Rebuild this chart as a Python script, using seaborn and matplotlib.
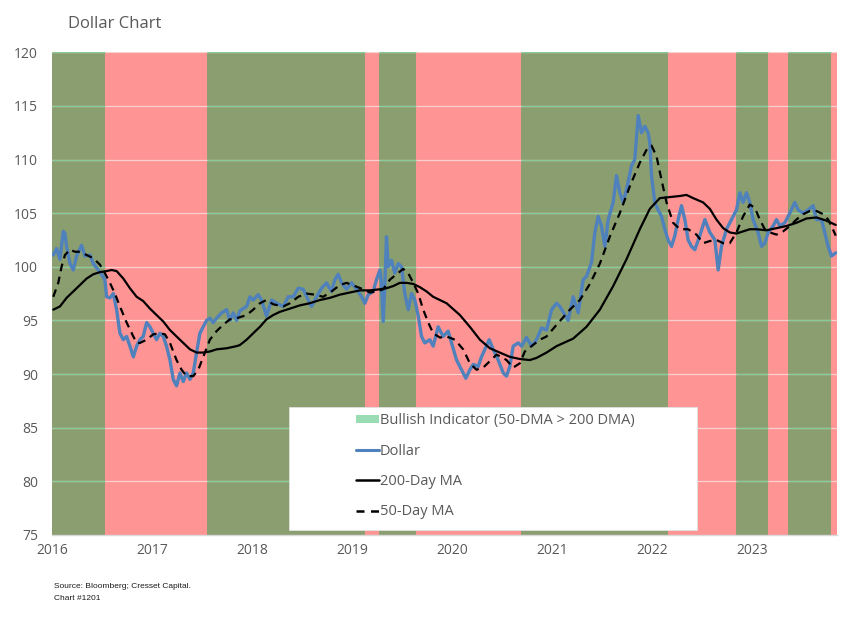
import numpy as np
import pandas as pd
import matplotlib
matplotlib.use("Agg")
import matplotlib.pyplot as plt
from matplotlib.lines import Line2D
from matplotlib.patches import Patch, Rectangle
import seaborn as sns

# ---------------- data (decimal years, index values) ----------------
dollar_t = [2016.013, 2016.046, 2016.080, 2016.113, 2016.130, 2016.146, 2016.180, 2016.213, 2016.246, 2016.296,
            2016.330, 2016.380, 2016.413, 2016.463, 2016.496, 2016.529, 2016.546, 2016.579, 2016.613, 2016.646,
            2016.679, 2016.713, 2016.746, 2016.779, 2016.813, 2016.846, 2016.879, 2016.912, 2016.946, 2016.979,
            2017.012, 2017.045, 2017.079, 2017.112, 2017.145, 2017.179, 2017.212, 2017.245, 2017.279, 2017.312,
            2017.345, 2017.379, 2017.412, 2017.445, 2017.478, 2017.512, 2017.545, 2017.578, 2017.612, 2017.645,
            2017.695, 2017.745, 2017.778, 2017.811, 2017.845, 2017.878, 2017.945, 2017.978, 2018.011, 2018.061,
            2018.094, 2018.144, 2018.194, 2018.244, 2018.311, 2018.361, 2018.411, 2018.461, 2018.511, 2018.561,
            2018.594, 2018.644, 2018.694, 2018.744, 2018.794, 2018.827, 2018.860, 2018.894, 2018.944, 2018.994,
            2019.044, 2019.094, 2019.127, 2019.160, 2019.210, 2019.243, 2019.277, 2019.293, 2019.310, 2019.327,
            2019.343, 2019.360, 2019.393, 2019.426, 2019.460, 2019.493, 2019.526, 2019.560, 2019.593, 2019.626,
            2019.660, 2019.693, 2019.726, 2019.776, 2019.809, 2019.859, 2019.909, 2019.959, 2019.993, 2020.043,
            2020.092, 2020.136, 2020.176, 2020.209, 2020.259, 2020.292, 2020.326, 2020.369, 2020.409, 2020.459,
            2020.509, 2020.542, 2020.575, 2020.609, 2020.659, 2020.692, 2020.742, 2020.792, 2020.842, 2020.892,
            2020.942, 2020.992, 2021.042, 2021.075, 2021.158, 2021.208, 2021.258, 2021.308, 2021.341, 2021.391,
            2021.425, 2021.458, 2021.491, 2021.525, 2021.558, 2021.608, 2021.641, 2021.674, 2021.708, 2021.741,
            2021.791, 2021.824, 2021.858, 2021.891, 2021.924, 2021.957, 2021.974, 2021.991, 2022.024, 2022.057,
            2022.091, 2022.124, 2022.157, 2022.191, 2022.224, 2022.257, 2022.291, 2022.324, 2022.357, 2022.390,
            2022.424, 2022.474, 2022.524, 2022.574, 2022.624, 2022.657, 2022.690, 2022.740, 2022.790, 2022.840,
            2022.873, 2022.906, 2022.940, 2022.973, 2023.006, 2023.056, 2023.090, 2023.123, 2023.156, 2023.206,
            2023.240, 2023.273, 2023.323, 2023.373, 2023.423, 2023.456, 2023.506, 2023.556, 2023.606, 2023.639,
            2023.689, 2023.722, 2023.756, 2023.789, 2023.832]
dollar_v = [101.1, 101.7, 100.7, 103.3, 103.1, 101.9, 100.3, 99.7, 101.0, 102.0,
            101.0, 101.1, 100.3, 99.7, 99.3, 98.8, 97.2, 97.1, 97.5, 96.0,
            93.8, 93.2, 93.5, 92.6, 91.6, 92.6, 93.2, 93.5, 94.8, 94.4,
            93.8, 93.2, 93.8, 93.5, 92.6, 91.3, 89.5, 88.9, 90.1, 89.3,
            90.1, 89.5, 90.1, 92.0, 93.8, 94.4, 95.0, 95.2, 94.8, 95.2,
            95.7, 96.0, 95.0, 95.7, 95.0, 95.9, 96.3, 97.2, 96.9, 97.4,
            96.9, 95.4, 96.9, 96.6, 96.3, 97.2, 97.2, 98.0, 97.9, 96.9,
            96.3, 97.2, 98.0, 98.5, 97.7, 98.8, 99.3, 98.5, 97.9, 98.5,
            97.9, 97.2, 96.6, 97.4, 97.7, 98.8, 99.7, 98.5, 94.9, 98.5,
            102.8, 100.0, 100.6, 99.4, 100.3, 100.0, 97.5, 96.0, 97.5, 96.9,
            95.4, 93.5, 92.9, 93.2, 92.6, 94.4, 93.5, 94.0, 92.9, 91.3,
            90.4, 89.6, 90.4, 90.9, 90.7, 91.6, 92.3, 93.2, 92.3, 91.3,
            90.1, 89.8, 90.7, 92.6, 92.9, 92.6, 93.4, 92.6, 93.2, 94.3,
            94.1, 96.0, 96.6, 96.3, 95.0, 97.2, 95.7, 98.8, 99.1, 100.4,
            103.2, 104.7, 103.8, 101.9, 104.4, 106.0, 108.5, 106.9, 106.0, 107.2,
            109.4, 110.0, 114.1, 112.5, 113.1, 112.5, 111.6, 108.5, 106.0, 105.3,
            104.7, 103.5, 102.5, 101.9, 102.9, 104.4, 105.7, 104.4, 102.5, 101.9,
            101.6, 102.9, 104.4, 103.2, 102.5, 99.7, 101.9, 103.5, 104.4, 105.3,
            106.9, 106.0, 106.9, 106.0, 104.4, 103.2, 101.9, 102.2, 103.2, 103.8,
            104.4, 103.8, 104.1, 105.0, 106.0, 105.3, 105.0, 105.3, 105.7, 104.4,
            104.4, 103.2, 101.9, 101.0, 101.3]

ma200_t = [2016.013, 2016.080, 2016.146, 2016.213, 2016.280, 2016.346, 2016.413, 2016.479, 2016.546, 2016.596,
           2016.646, 2016.713, 2016.779, 2016.846, 2016.912, 2016.979, 2017.045, 2017.112, 2017.179, 2017.245,
           2017.312, 2017.379, 2017.445, 2017.512, 2017.578, 2017.645, 2017.745, 2017.845, 2017.878, 2017.945,
           2018.011, 2018.078, 2018.144, 2018.211, 2018.278, 2018.378, 2018.477, 2018.577, 2018.677, 2018.777,
           2018.877, 2018.977, 2019.077, 2019.177, 2019.277, 2019.343, 2019.410, 2019.476, 2019.543, 2019.610,
           2019.676, 2019.743, 2019.809, 2019.876, 2019.943, 2020.076, 2020.176, 2020.276, 2020.376, 2020.475,
           2020.575, 2020.675, 2020.775, 2020.842, 2020.942, 2021.042, 2021.208, 2021.341, 2021.475, 2021.608,
           2021.741, 2021.874, 2021.974, 2022.074, 2022.174, 2022.274, 2022.340, 2022.407, 2022.507, 2022.574,
           2022.640, 2022.707, 2022.773, 2022.840, 2022.906, 2022.973, 2023.040, 2023.140, 2023.240, 2023.339,
           2023.439, 2023.539, 2023.639, 2023.739, 2023.832]
ma200_v = [96.0, 96.3, 97.1, 97.7, 98.3, 98.9, 99.3, 99.5, 99.6, 99.7,
           99.6, 98.9, 98.0, 97.2, 96.8, 96.1, 95.5, 94.9, 94.1, 93.5,
           92.9, 92.3, 92.0, 92.0, 92.1, 92.3, 92.4, 92.6, 92.7, 93.2,
           93.8, 94.4, 95.1, 95.5, 95.8, 96.1, 96.4, 96.6, 96.9, 97.1,
           97.4, 97.6, 97.8, 97.8, 97.9, 98.0, 98.2, 98.5, 98.5, 98.4,
           98.1, 97.7, 97.2, 96.9, 96.6, 95.5, 94.4, 93.2, 92.4, 92.0,
           91.6, 91.4, 91.3, 91.5, 92.0, 92.6, 93.3, 94.4, 96.0, 98.2,
           100.7, 103.5, 105.4, 106.4, 106.5, 106.6, 106.7, 106.4, 106.0, 105.4,
           104.4, 103.6, 103.2, 103.1, 103.3, 103.5, 103.5, 103.4, 103.6, 103.8,
           104.1, 104.5, 104.6, 104.3, 103.9]

ma50_t = [2016.013, 2016.063, 2016.096, 2016.130, 2016.180, 2016.230, 2016.280, 2016.346, 2016.413, 2016.479,
          2016.529, 2016.579, 2016.629, 2016.679, 2016.746, 2016.813, 2016.846, 2016.879, 2016.946, 2017.012,
          2017.079, 2017.129, 2017.179, 2017.245, 2017.295, 2017.345, 2017.412, 2017.462, 2017.512, 2017.578,
          2017.645, 2017.712, 2017.778, 2017.845, 2017.945, 2018.011, 2018.078, 2018.144, 2018.211, 2018.311,
          2018.378, 2018.461, 2018.544, 2018.627, 2018.710, 2018.794, 2018.877, 2018.944, 2019.027, 2019.110,
          2019.177, 2019.243, 2019.310, 2019.377, 2019.443, 2019.510, 2019.560, 2019.610, 2019.660, 2019.710,
          2019.760, 2019.809, 2019.876, 2019.943, 2020.026, 2020.109, 2020.176, 2020.242, 2020.309, 2020.376,
          2020.442, 2020.492, 2020.542, 2020.609, 2020.675, 2020.725, 2020.792, 2020.875, 2020.942, 2021.025,
          2021.175, 2021.275, 2021.375, 2021.475, 2021.574, 2021.674, 2021.774, 2021.874, 2021.941, 2021.991,
          2022.041, 2022.091, 2022.141, 2022.207, 2022.274, 2022.357, 2022.440, 2022.507, 2022.574, 2022.640,
          2022.707, 2022.773, 2022.840, 2022.906, 2022.973, 2023.023, 2023.073, 2023.123, 2023.173, 2023.240,
          2023.306, 2023.373, 2023.439, 2023.506, 2023.573, 2023.639, 2023.706, 2023.756, 2023.789, 2023.832]
ma50_v = [97.2, 98.5, 100.0, 101.1, 101.6, 101.4, 101.4, 101.1, 100.8, 100.2,
          99.4, 98.5, 97.5, 96.3, 94.8, 93.5, 92.9, 92.9, 93.2, 93.7,
          93.8, 93.7, 92.9, 91.3, 90.4, 89.8, 89.8, 90.4, 91.6, 93.2,
          94.0, 94.6, 95.1, 95.2, 95.5, 96.0, 96.6, 96.9, 96.5, 96.3,
          96.6, 97.2, 97.5, 97.4, 97.2, 97.7, 98.3, 98.5, 98.2, 97.9,
          97.6, 97.7, 97.9, 98.8, 99.3, 99.8, 99.4, 98.5, 97.5, 96.0,
          94.8, 93.8, 93.4, 93.5, 93.2, 92.3, 91.0, 90.4, 90.6, 91.2,
          91.8, 91.6, 91.3, 90.6, 91.0, 92.1, 92.6, 93.2, 93.5, 94.4,
          96.0, 96.9, 98.4, 100.3, 102.8, 105.0, 107.5, 109.7, 110.9, 111.3,
          110.3, 108.1, 106.0, 104.1, 103.5, 103.5, 103.0, 102.2, 102.4, 102.5,
          102.2, 102.2, 103.2, 104.7, 105.8, 105.5, 104.4, 103.5, 103.2, 103.0,
          103.3, 103.8, 104.4, 104.9, 105.2, 105.2, 104.9, 104.4, 103.8, 102.9]

bull_start = [2016.00, 2017.551, 2019.270, 2020.685, 2022.840, 2023.350]
bull_end = [2016.530, 2019.127, 2019.636, 2022.157, 2023.156, 2023.782]

year_ticks = [2016, 2017, 2018, 2019, 2020, 2021, 2022, 2023]
y_ticks = [75, 80, 85, 90, 95, 100, 105, 110, 115, 120]

# ---------------- style ----------------
sns.set_style("white")
plt.rcParams["font.family"] = ["Open Sans", "DejaVu Sans"]

RED = "#FF9494"
GREEN = "#8A9E6F"
GRID_RED = "#F9CFCF"
GRID_GREEN = "#86CC9A"
BLUE = "#4F81BD"
TXT = "#595959"

fig = plt.figure(figsize=(8.66, 6.30), dpi=100)
ax = fig.add_axes([0.060, 0.151, 0.906, 0.766])
ax.set_facecolor(RED)

x_lo, x_hi = 2016.0, 2023.84
ax.set_xlim(x_lo, x_hi)
ax.set_ylim(75, 120)

# bullish spans
for s, e in zip(bull_start, bull_end):
    ax.axvspan(s, e, color=GREEN, lw=0, zorder=0.5)

# gridlines (tinted by region)
for yv in y_ticks[1:]:
    ax.axhline(yv, color=GRID_RED, lw=0.9, zorder=0.8)
    for s, e in zip(bull_start, bull_end):
        ax.hlines(yv, s, e, color=GRID_GREEN, lw=0.9, zorder=0.9)

df_d = pd.DataFrame({"t": dollar_t, "v": dollar_v})
df_200 = pd.DataFrame({"t": ma200_t, "v": ma200_v})
df_50 = pd.DataFrame({"t": ma50_t, "v": ma50_v})

sns.lineplot(data=df_d, x="t", y="v", ax=ax, color=BLUE, lw=2.4, zorder=3, estimator=None, sort=False)
sns.lineplot(data=df_200, x="t", y="v", ax=ax, color="black", lw=1.6, zorder=4, estimator=None, sort=False)
sns.lineplot(data=df_50, x="t", y="v", ax=ax, color="black", lw=1.6, zorder=5, estimator=None, sort=False)
ax.lines[-1].set_dashes((3.5, 2.5))

ax.set_xlabel("")
ax.set_ylabel("")
ax.set_xticks(year_ticks)
ax.set_xticklabels([str(y) for y in year_ticks])
ax.set_yticks(y_ticks)
ax.tick_params(axis="x", colors="#BFBFBF", length=4, width=0.8, labelcolor=TXT, labelsize=10, pad=2)
ax.tick_params(axis="y", length=0, labelcolor=TXT, labelsize=10, pad=10)
for side in ["top", "right", "left"]:
    ax.spines[side].set_visible(False)
ax.spines["bottom"].set_color("#D9D9D9")
ax.spines["bottom"].set_linewidth(1.0)

# legend box
ax.add_patch(Rectangle((0.302, 0.0104), 0.520, 0.2546, transform=ax.transAxes,
                       facecolor="white", edgecolor="#E0E0E0", lw=0.6, zorder=6))
handles = [
    Patch(facecolor="#9ADDB4", edgecolor="none"),
    Line2D([], [], color=BLUE, lw=2.2),
    Line2D([], [], color="black", lw=1.8),
    Line2D([], [], color="black", lw=1.8, dashes=(3.2, 2.6)),
]
labels = ["Bullish Indicator (50-DMA > 200 DMA)", "Dollar", "200-Day MA", "50-Day MA"]
leg = ax.legend(handles, labels, loc="upper left", bbox_to_anchor=(0.387, 0.252),
                frameon=False, fontsize=10.5, labelcolor=TXT, handlelength=1.6,
                handleheight=0.5, handletextpad=0.05, labelspacing=1.05,
                borderpad=0, borderaxespad=0)
leg.set_zorder(7)

fig.text(68 / 866, 1 - 24 / 630, "Dollar Chart", fontsize=12, color=TXT, va="center", ha="left")
src_family = ["Liberation Sans Narrow", "Liberation Sans", "DejaVu Sans"]
fig.text(54 / 866, 1 - 587 / 630, "Source: Bloomberg; Cresset Capital.", fontsize=6.0, color="#1a1a1a",
         va="center", ha="left", family=src_family)
fig.text(54 / 866, 1 - 599 / 630, "Chart #1201", fontsize=6.0, color="#1a1a1a",
         va="center", ha="left", family=src_family)

fig.savefig("out.png", dpi=100, facecolor="white")
